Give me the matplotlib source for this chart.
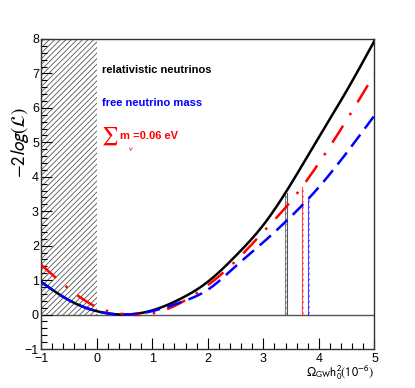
import numpy as np
import matplotlib
matplotlib.use("Agg")
import matplotlib.pyplot as plt
from matplotlib.ticker import MultipleLocator

plt.rcParams['font.family'] = ['Liberation Sans', 'DejaVu Sans']
plt.rcParams['mathtext.fontset'] = 'stixsans'
plt.rcParams['hatch.linewidth'] = 0.6

# Data
x_pts = [-1.0, -0.5, 0.0, 0.5, 1.0, 1.5, 2.0, 2.5, 3.0, 3.5, 4.0, 4.5, 5.0]
black_y = [0.95, 0.42, 0.10, 0.0, 0.12, 0.45, 0.95, 1.70, 2.60, 3.80, 5.15, 6.50, 7.95]
blue_y = [0.95, 0.42, 0.10, 0.0, 0.10, 0.35, 0.72, 1.40, 2.10, 2.85, 3.70, 4.70, 5.78]
red_y = [1.45, 0.75, 0.22, 0.01, 0.03, 0.33, 0.85, 1.55, 2.40, 3.30, 4.40, 5.65, 6.98]

limit_black = [3.39, 3.43]
limit_red = [3.70, 3.73]
limit_blue = [3.81, 3.84]
excluded = [-1.0, 0.0]

xs = np.linspace(-1, 5, 600)


def spline(xp, yp, xq):
    xp = np.asarray(xp, float); yp = np.asarray(yp, float)
    n = len(xp)
    h = np.diff(xp)
    A = np.zeros((n, n)); r = np.zeros(n)
    A[0, 0] = 1; A[-1, -1] = 1
    for i in range(1, n - 1):
        A[i, i - 1] = h[i - 1]
        A[i, i] = 2 * (h[i - 1] + h[i])
        A[i, i + 1] = h[i]
        r[i] = 3 * ((yp[i + 1] - yp[i]) / h[i] - (yp[i] - yp[i - 1]) / h[i - 1])
    c = np.linalg.solve(A, r)
    b = (yp[1:] - yp[:-1]) / h - h * (2 * c[:-1] + c[1:]) / 3
    d = (c[1:] - c[:-1]) / (3 * h)
    idx = np.clip(np.searchsorted(xp, xq) - 1, 0, n - 2)
    dx = xq - xp[idx]
    return yp[idx] + b[idx] * dx + c[idx] * dx ** 2 + d[idx] * dx ** 3


fig = plt.figure(figsize=(4.15, 3.88), dpi=100)
ax = fig.add_axes([0.0988, 0.1005, 0.8036, 0.799])

# excluded region
ax.fill_between(excluded, 0, 8, facecolor='none', edgecolor='#555555', hatch='//////', linewidth=0)

ax.axhline(0, color='#555555', lw=1.0, zorder=1)

yb = spline(x_pts, black_y, xs)
yr = spline(x_pts, red_y, xs)
yl = spline(x_pts, blue_y, xs)

ax.plot(xs, yb, color='black', lw=1.8, zorder=3)
ax.plot(xs, yr, color='red', lw=1.8, dashes=(8, 5, 1, 5), zorder=4)
ax.plot(xs, yl, color='blue', lw=1.8, dashes=(6, 3), zorder=5)


def band(lims, ycurve, col):
    h = np.interp(lims[0], xs, ycurve)
    ax.fill_between(lims, 0, h, facecolor='none', edgecolor=col, hatch='//////', linewidth=0, alpha=0.7)
    ax.plot([lims[0], lims[0]], [0, h], color=col, lw=0.8, alpha=0.7)
    return h


hb = band(limit_black, yb, '#555555')
ax.plot([limit_black[1], limit_black[1]], [0, hb], color='#555555', lw=0.8)
band(limit_red, yr, 'red')
band(limit_blue, yl, 'blue')

ax.set_xlim(-1, 5)
ax.set_ylim(-1, 8)
ax.xaxis.set_major_locator(MultipleLocator(1))
ax.xaxis.set_minor_locator(MultipleLocator(0.2))
ax.yaxis.set_major_locator(MultipleLocator(1))
ax.yaxis.set_minor_locator(MultipleLocator(0.2))
ax.tick_params(which='both', direction='in', top=False, right=False, labelsize=9, width=0.8)
ax.tick_params(which='major', length=8)
ax.tick_params(which='minor', length=4)
ax.tick_params(axis='y', pad=1.5)
ax.tick_params(axis='x', pad=3)
for s in ax.spines.values():
    s.set_linewidth(1.0)
    s.set_color('#333333')

ax.text(0.183, 0.90, 'relativistic neutrinos', transform=ax.transAxes, fontsize=8, fontweight='bold', color='black', va='center')
ax.text(0.183, 0.794, 'free neutrino mass', transform=ax.transAxes, fontsize=8, fontweight='bold', color='blue', va='center')
ax.text(0.181, 0.686, r'$\sum$', transform=ax.transAxes, fontsize=13, color='red', va='center')
ax.text(0.236, 0.686, 'm', transform=ax.transAxes, fontsize=8, fontweight='bold', color='red', va='center')
ax.text(0.262, 0.646, r'$\nu$', transform=ax.transAxes, fontsize=6, color='red', va='center')
ax.text(0.276, 0.686, '=0.06 eV', transform=ax.transAxes, fontsize=8, fontweight='bold', color='red', va='center')

fig.text(0.048, 0.634, r'$-2log(\mathcal{L})$', rotation=90, fontsize=13.5, ha='center', va='center')
fig.text(0.9, 0.038, r'$\Omega_{\mathrm{GW}}\mathrm{h}_0^2(10^{-6})$', fontsize=9, ha='right', va='center')

fig.savefig('out.png', dpi=100)
